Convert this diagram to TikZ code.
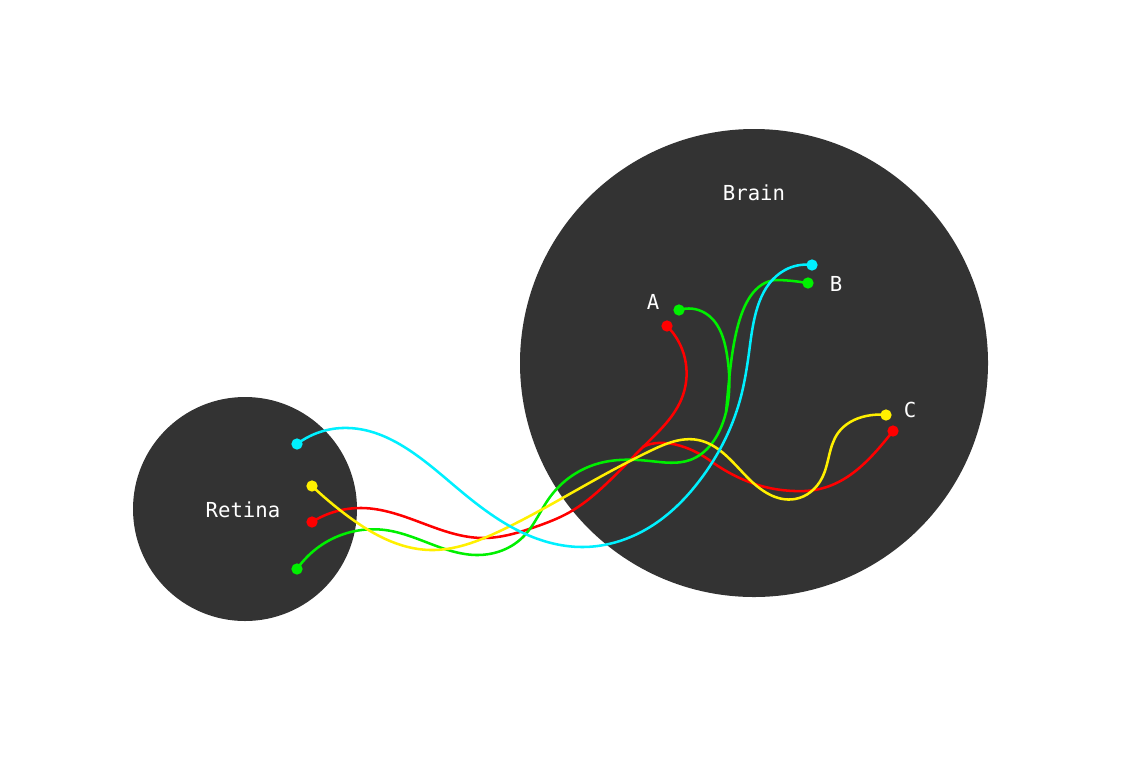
\documentclass[tikz,border=0pt]{standalone}
\usepackage{fontspec}
\setmonofont{DejaVu Sans Mono}
\usetikzlibrary{hobby}
\begin{document}
\begin{tikzpicture}[x=0.75pt,y=-0.75pt,
  region/.style={circle,fill=dark,draw=none,inner sep=0pt},
  dot/.style={circle,inner sep=0pt,minimum size=8.5pt,fill=#1},
  wire/.style={line width=1.9pt,draw=#1,line cap=round},
  lbl/.style={text=white,font=\ttfamily\fontsize{15.5}{18}\selectfont,inner sep=0pt}]
\definecolor{dark}{HTML}{333333}
\definecolor{cy}{RGB}{0,240,255}
\definecolor{rd}{RGB}{255,0,0}
\definecolor{gr}{RGB}{0,240,0}
\definecolor{yl}{RGB}{255,240,0}
\useasboundingbox[fill=white] (0,0) rectangle (1141,775);
\node[region,minimum size=168pt] (retina) at (245,509) {};
\node[region,minimum size=351pt] (brain) at (754,363) {};
\node[lbl] (retlbl) at (243,510) {Retina};
\node[lbl] (brlbl) at (754,193) {Brain};
\node[lbl] (la) at (653,302) {A};
\node[lbl] (lb) at (836,284) {B};
\node[lbl] (lc) at (910,410) {C};
% endpoints
\coordinate (rc) at (297,444);
\coordinate (ry) at (312,486);
\coordinate (rr) at (312,522);
\coordinate (rg) at (297,569);
\coordinate (ar) at (667,326);
\coordinate (ag) at (679,310);
\coordinate (bc) at (812,265);
\coordinate (bg) at (808,283);
\coordinate (cy1) at (886,415);
\coordinate (cr) at (893,431);
\coordinate (rsplit) at (643,447);
\coordinate (gsplit) at (726,412);
% red
\draw[wire=rd] (rr) to[curve through={(362,508) (483,538) (535,527) (570,512) (605,485) (643,447) (683,395)}] (ar);
\draw[wire=rd] (rsplit) .. controls (655,440) and (682,440) .. (712,462) .. controls (745,485) and (775,492) .. (805,491) .. controls (845,489) and (870,460) .. (cr);
% green
\draw[wire=gr] (rg) to[curve through={(385,530) (478,555) (523,537) (550,497) (600,463) (650,461) (690,460) (722,425) (727,355) (705,313)}] (ag);
\draw[wire=gr] (gsplit) .. controls (731,362) and (734,285) .. (775,280) .. controls (790,280) and (800,282) .. (bg);
% yellow
\draw[wire=yl] (ry) to[curve through={(345,514) (430,550) (500,531) (550,505) (600,477) (650,451) (698,440) (747,477) (795,499) (822,478) (838,433) (866,416)}] (cy1);
% cyan
\draw[wire=cy] (rc) to[curve through={(342,428) (450,482) (517,530) (583,547) (650,527) (700,480) (740,400) (750,345) (785,270)}] (bc);
% dots
\node[dot=cy] (dc) at (rc) {};
\node[dot=yl] (dy) at (ry) {};
\node[dot=rd] (dr) at (rr) {};
\node[dot=gr] (dg) at (rg) {};
\node[dot=rd] (dar) at (ar) {};
\node[dot=gr] (dag) at (ag) {};
\node[dot=cy] (dbc) at (bc) {};
\node[dot=gr] (dbg) at (bg) {};
\node[dot=yl] (dcy) at (cy1) {};
\node[dot=rd] (dcr) at (cr) {};
\end{tikzpicture}
\end{document}
